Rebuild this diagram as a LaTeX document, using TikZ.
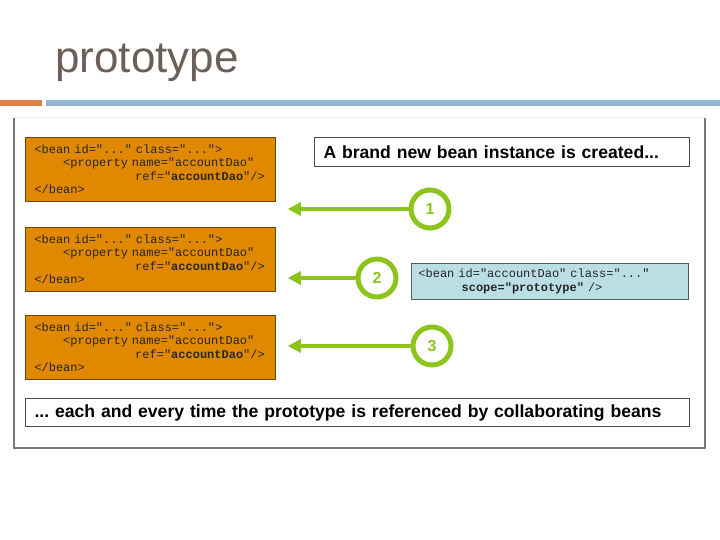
\documentclass[tikz,border=0pt]{standalone}
\usepackage{fontspec}
\setmainfont{Liberation Sans}
\setmonofont{Liberation Mono}
\usetikzlibrary{arrows.meta}
\definecolor{beanorange}{RGB}{224,137,0}
\definecolor{beanedge}{RGB}{105,68,12}
\definecolor{scopeblue}{RGB}{186,222,228}
\definecolor{stepgreen}{RGB}{141,196,28}
\definecolor{titlegray}{RGB}{107,95,89}
\definecolor{barorange}{RGB}{221,128,71}
\definecolor{barblue}{RGB}{148,182,210}
\definecolor{framegray}{RGB}{120,120,120}
\newcommand{\codesize}{\fontsize{12}{13.5}\selectfont\ttfamily}
\newcommand{\notesize}{\fontsize{17.6}{20}\selectfont\bfseries\frenchspacing}
\newcommand{\codeskip}[1]{\hspace*{#1\dimexpr0.6em\relax}}

\begin{document}
\begin{tikzpicture}[x=1pt, y=-1pt,
    beanbox/.style={draw=beanedge, fill=beanorange, line width=0.8pt, anchor=north west,
        minimum height=64pt, inner xsep=9pt, inner ysep=0pt, text width=232pt, align=left,
        font=\codesize, text=black!85},
    scopebox/.style={draw=gray!70!black, fill=scopeblue, line width=0.8pt, anchor=north west,
        minimum height=36pt, inner xsep=7pt, inner ysep=0pt, text width=263pt, align=left,
        font=\codesize, text=black!85},
    notebox/.style={draw=gray!60!black, fill=white, line width=1pt, anchor=north west,
        minimum height=29pt, inner xsep=9pt, inner ysep=0pt, text width=357pt, align=left,
        font=\notesize},
    stepcircle/.style={circle, draw=stepgreen, line width=5pt, fill=white, minimum size=38pt,
        inner sep=0pt, font=\fontsize{16}{16}\selectfont\bfseries, text=stepgreen},
    greenarrow/.style={draw=stepgreen, line width=4pt, -{Triangle[length=13pt,width=13pt]},
        shorten >=12pt}]
    \useasboundingbox (0,0) rectangle (720,540);
    %titolo e barre
    \node[anchor=base west, inner sep=0pt, font=\fontsize{44}{44}\selectfont, text=titlegray]
        (title) at (55,73) {prototype};
    \fill[barorange] (0,100) rectangle (42,106.5);
    \fill[barblue] (46,100) rectangle (720,106.5);
    %cornice
    \draw[gray!15, line width=1pt] (14,118) -- (705,118);
    \draw[framegray, line width=1.2pt] (14,118) -- (14,448) -- (705,448) -- (705,118);

    %bean con riferimento
    \node[beanbox] (beanA) at (25,137) {<bean id="..." class="...">\\
        \codeskip{4}<property name="accountDao"\\
        \codeskip{14}ref="\textbf{accountDao}"/>\\
        </bean>};
    \node[beanbox] (beanB) at (25,227) {<bean id="..." class="...">\\
        \codeskip{4}<property name="accountDao"\\
        \codeskip{14}ref="\textbf{accountDao}"/>\\
        </bean>};
    \node[beanbox] (beanC) at (25,315) {<bean id="..." class="...">\\
        \codeskip{4}<property name="accountDao"\\
        \codeskip{14}ref="\textbf{accountDao}"/>\\
        </bean>};

    %testi a destra
    \node[notebox] (created) at (314,137) {A brand new bean instance is created...};
    \node[scopebox] (scope) at (411,263) {<bean id="accountDao" class="..."\\
        \codeskip{6}\textbf{scope="prototype"} />};
    \node[notebox, text width=646pt, minimum height=28pt] (every) at (25,398)
        {... each and every time the prototype is referenced by collaborating beans};

    %cerchi numerati
    \node[stepcircle] (one) at (430,209) {1};
    \node[stepcircle] (two) at (377,278) {2};
    \node[stepcircle] (three) at (432,346) {3};
    %freccie
    \draw[greenarrow] (one.west) -- (one.west -| beanA.east);
    \draw[greenarrow] (two.west) -- (two.west -| beanB.east);
    \draw[greenarrow] (three.west) -- (three.west -| beanC.east);
\end{tikzpicture}
\end{document}
